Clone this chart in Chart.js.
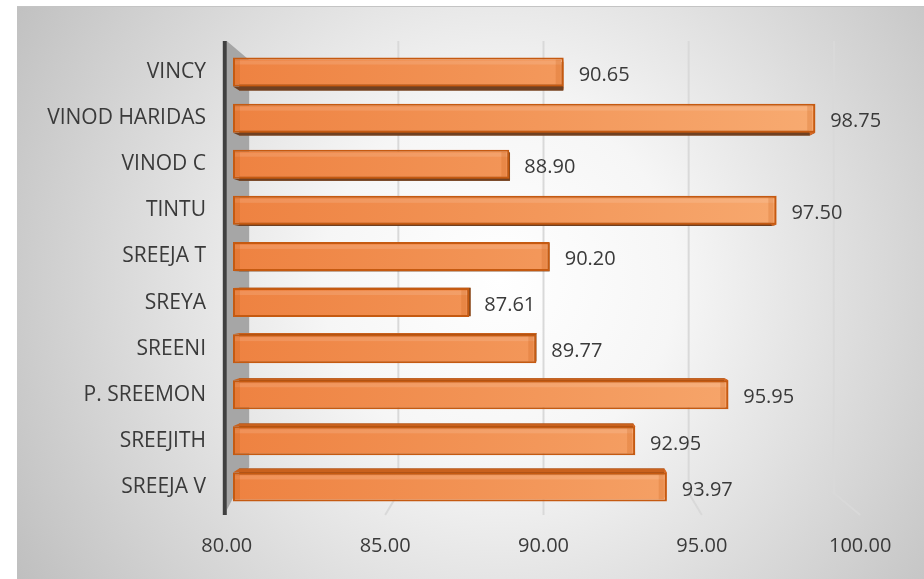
<!DOCTYPE html>
<html>
<head>
<meta charset="utf-8">
<script src="https://cdn.jsdelivr.net/npm/chart.js@4"></script>
<style>
html,body{margin:0;padding:0;background:#fff;}
canvas{display:block;}
</style>
</head>
<body>
<canvas id="c" width="924" height="579"></canvas>
<script>
const categories = ["VINCY","VINOD HARIDAS","VINOD C","TINTU","SREEJA T","SREYA","SREENI","P. SREEMON","SREEJITH","SREEJA V"];
const values = [90.65, 98.75, 88.90, 97.50, 90.20, 87.61, 89.77, 95.95, 92.95, 93.97];
const xTicks = [80, 85, 90, 95, 100];

const FONT = '"Open Sans", "DejaVu Sans", sans-serif';
const TEXT = '#3a3a3a';

function vanish(chart){
  const a = chart.chartArea;
  return {x: chart.scales.x.getPixelForValue(90), y: (a.top + a.bottom) / 2};
}

const bgPlugin = {
  id: 'bg',
  beforeDraw(chart){
    const ctx = chart.ctx;
    ctx.save();
    ctx.fillStyle = '#ffffff';
    ctx.fillRect(0, 0, chart.width, chart.height);
    const g = ctx.createRadialGradient(500, 280, 0, 500, 280, 590);
    g.addColorStop(0, '#ffffff');
    g.addColorStop(0.3, '#f6f6f6');
    g.addColorStop(1, '#bcbcbc');
    ctx.fillStyle = g;
    ctx.fillRect(17, 6, chart.width - 17, chart.height - 6);
    ctx.fillStyle = '#c4c4c4';
    ctx.fillRect(17, 6, chart.width - 17, 1);
    ctx.restore();
  }
};

const scenePlugin = {
  id: 'scene',
  beforeDatasetsDraw(chart){
    const ctx = chart.ctx;
    const xs = chart.scales.x;
    const V = vanish(chart);
    const top = 41, backBottom = 493, floor = 515;
    ctx.save();
    ctx.strokeStyle = '#d9d9d9';
    ctx.lineWidth = 2;
    xTicks.forEach(v => {
      if (v === xTicks[0]) return;
      const p = xs.getPixelForValue(v);
      const bx = V.x + (p - V.x) * 0.935;
      const fx = V.x + (p - V.x) * 1.02;
      ctx.beginPath();
      ctx.moveTo(bx, top);
      ctx.lineTo(bx, backBottom);
      ctx.lineTo(fx, floor);
      ctx.stroke();
    });
    const p0 = xs.getPixelForValue(xTicks[0]);
    const wx = V.x + (p0 - V.x) * 1.02;
    const wb = V.x + (p0 - V.x) * 0.935 - 4;
    ctx.fillStyle = '#a6a6a6';
    ctx.beginPath();
    ctx.moveTo(wx, top);
    ctx.lineTo(wb, top + 19);
    ctx.lineTo(wb, backBottom - 26);
    ctx.lineTo(wx, floor - 5);
    ctx.closePath();
    ctx.fill();
    ctx.fillStyle = '#404040';
    ctx.fillRect(wx - 4, top, 4, floor - top);

    const meta = chart.getDatasetMeta(0);
    const f = 0.02;
    meta.data.forEach(bar => {
      const h = bar.height;
      const x0 = bar.base, x1 = bar.x;
      const y0 = bar.y - h / 2, y1 = bar.y + h / 2;
      const T = (x, y) => [x + (V.x - x) * f, y + (V.y - y) * f];
      const [bx0, by0] = T(x0, y0);
      const [bx1, by0r] = T(x1, y0);
      const [bx0b, by1] = T(x0, y1);
      const [bx1b, by1r] = T(x1, y1);
      ctx.fillStyle = '#8a4718';
      ctx.beginPath();
      ctx.moveTo(bx0, by0); ctx.lineTo(bx1, by0r); ctx.lineTo(bx1b, by1r); ctx.lineTo(bx0b, by1);
      ctx.closePath(); ctx.fill();
      if (bar.y > V.y) {
        ctx.fillStyle = '#c9611d';
        ctx.beginPath();
        ctx.moveTo(x0, y0); ctx.lineTo(x1, y0); ctx.lineTo(bx1, by0r); ctx.lineTo(bx0, by0);
        ctx.closePath(); ctx.fill();
      } else {
        ctx.fillStyle = '#6f4022';
        ctx.beginPath();
        ctx.moveTo(x0, y1); ctx.lineTo(x1, y1); ctx.lineTo(bx1b, by1r); ctx.lineTo(bx0b, by1);
        ctx.closePath(); ctx.fill();
      }
      if (x1 > V.x) {
        ctx.fillStyle = '#d86b27';
        ctx.beginPath();
        ctx.moveTo(x1, y0); ctx.lineTo(bx1, by0r); ctx.lineTo(bx1b, by1r); ctx.lineTo(x1, y1);
        ctx.closePath(); ctx.fill();
      }
    });
    ctx.restore();
  },
  afterDatasetsDraw(chart){
    const ctx = chart.ctx;
    const xs = chart.scales.x;
    const V = vanish(chart);
    const meta = chart.getDatasetMeta(0);
    ctx.save();
    meta.data.forEach(bar => {
      const h = bar.height;
      const y0 = bar.y - h / 2;
      ctx.fillStyle = 'rgba(255,255,255,0.12)';
      ctx.fillRect(bar.base + 2, y0 + 3, bar.x - bar.base - 4, 4);
      ctx.fillStyle = 'rgba(200,90,20,0.22)';
      ctx.fillRect(bar.base + 2, y0 + 2, 5, h - 4);
      ctx.fillRect(bar.x - 8, y0 + 2, 5, h - 4);
    });
    ctx.fillStyle = TEXT;
    ctx.font = '20px ' + FONT;
    ctx.textAlign = 'left';
    ctx.textBaseline = 'middle';
    meta.data.forEach((bar, i) => {
      ctx.fillText(values[i].toFixed(2), bar.x + 15, bar.y + 3);
    });
    ctx.textAlign = 'center';
    xTicks.forEach(v => {
      const p = xs.getPixelForValue(v);
      const fx = V.x + (p - V.x) * 1.02;
      ctx.fillText(v.toFixed(2), fx, 546);
    });
    ctx.restore();
  }
};

const ctx = document.getElementById('c').getContext('2d');
const barGrad = (context) => {
  const chart = context.chart;
  const a = chart.chartArea;
  if (!a) return '#f08a4b';
  const g = chart.ctx.createLinearGradient(a.left, 0, a.right, 0);
  g.addColorStop(0, '#ee8241');
  g.addColorStop(1, '#f8ad74');
  return g;
};

new Chart(ctx, {
  type: 'bar',
  data: {
    labels: categories,
    datasets: [{
      data: values,
      base: 80,
      backgroundColor: barGrad,
      borderColor: '#c55a11',
      borderWidth: 2,
      borderSkipped: false,
      barPercentage: 0.63,
      categoryPercentage: 1
    }]
  },
  options: {
    indexAxis: 'y',
    responsive: false,
    animation: false,
    devicePixelRatio: 1,
    layout: {padding: {top: 49, right: 70, left: 0, bottom: 0}},
    plugins: {legend: {display: false}, tooltip: {enabled: false}},
    scales: {
      x: {
        min: 80, max: 100,
        ticks: {display: false, stepSize: 5},
        grid: {display: false},
        border: {display: false},
        afterFit(s){ s.height = 69; }
      },
      y: {
        grid: {display: false},
        border: {display: false},
        ticks: {color: TEXT, font: {family: FONT, size: 21}, padding: 19},
        afterFit(s){ s.width = 233; }
      }
    }
  },
  plugins: [bgPlugin, scenePlugin]
});
</script>
</body>
</html>
